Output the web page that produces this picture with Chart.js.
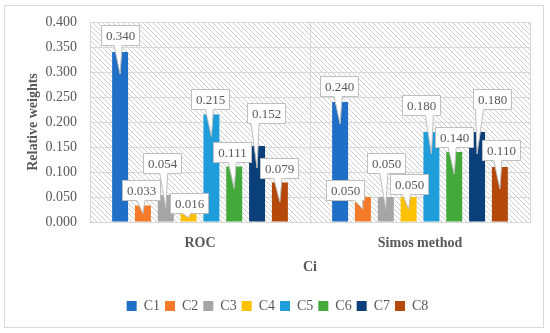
<!DOCTYPE html>
<html>
<head>
<meta charset="utf-8">
<script src="https://cdn.jsdelivr.net/npm/chart.js@4"></script>
<style>
  html, body { margin: 0; padding: 0; background: #fff; }
  #wrap { width: 550px; height: 333px; }
</style>
</head>
<body>
<div id="wrap"><canvas id="weights-chart" width="550" height="333"></canvas></div>
<script>
// categories on the x axis
const methods = ['ROC', 'Simos method'];
const criteria = ['C1', 'C2', 'C3', 'C4', 'C5', 'C6', 'C7', 'C8'];

// relative weights per method (one value per criterion)
const rocWeights   = [0.340, 0.033, 0.054, 0.016, 0.215, 0.111, 0.152, 0.079];
const simosWeights = [0.240, 0.050, 0.050, 0.050, 0.180, 0.140, 0.180, 0.110];

const yTicks = [0, 0.05, 0.10, 0.15, 0.20, 0.25, 0.30, 0.35, 0.40];

const barColors = ['#1f6fc6', '#f57b2b', '#a5a5a5', '#ffc000', '#1f9ddb', '#43a93b', '#0b3f7a', '#b4490b'];

// where each callout box sits, relative to the top of its bar [dx, dy]
const calloutOffsets = [
    [[0, -17], [-2, -16], [-4, -32], [0, -11], [-1, -16], [-2, -15], [9, -33], [-1, -15]],
    [[-1, -16], [-18, -7], [0, -34], [0, -13], [-10, -27], [0, -15], [15, -33], [1, -17]]
];

const textGray = '#595959';
const gridGray = '#d9d9d9';
const serif = '"Liberation Serif", "DejaVu Serif", serif';

// diagonal hatch used behind the plot area
const hatch = document.createElement('canvas');
hatch.width = 5;
hatch.height = 5;
const hctx = hatch.getContext('2d');
hctx.fillStyle = '#fff';
hctx.fillRect(0, 0, 5, 5);
hctx.fillStyle = '#cfcfcf';
for (let i = 0; i < 5; i++) hctx.fillRect(i, i, 1, 1);

const backgroundPlugin = {
    id: 'background',
    beforeDraw(chart) {
        const ctx = chart.ctx;
        const a = chart.chartArea;
        ctx.save();
        ctx.fillStyle = '#fff';
        ctx.fillRect(0, 0, chart.width, chart.height);
        ctx.strokeStyle = '#d9d9d9';
        ctx.lineWidth = 1;
        ctx.strokeRect(4.5, 5.5, 539, 322);
        ctx.fillStyle = ctx.createPattern(hatch, 'repeat');
        ctx.fillRect(a.left, a.top, a.right - a.left, a.bottom - a.top);
        ctx.restore();
    }
};

const calloutPlugin = {
    id: 'callouts',
    afterDatasetsDraw(chart) {
        const ctx = chart.ctx;
        ctx.save();
        ctx.font = '13px ' + serif;
        ctx.textAlign = 'center';
        ctx.textBaseline = 'middle';
        ctx.lineWidth = 1;
        chart.data.datasets.forEach((ds, i) => {
            const meta = chart.getDatasetMeta(i);
            meta.data.forEach((bar, j) => {
                const off = calloutOffsets[j][i];
                const cx = bar.x + off[0];
                const cy = bar.y + off[1];
                const w = 38, h = 20;
                const l = Math.round(cx - w / 2) + 0.5;
                const r = l + w;
                const t = Math.round(cy - h / 2) + 0.5;
                const b = t + h;
                const tipX = bar.x;
                const tipY = bar.y + Math.min(22, (bar.base - bar.y) / 2);
                const mid = Math.max(l + 6, Math.min(r - 6, tipX - 2));

                ctx.beginPath();
                ctx.moveTo(l, t);
                ctx.lineTo(r, t);
                ctx.lineTo(r, b);
                ctx.lineTo(mid + 4, b);
                ctx.lineTo(tipX, tipY);
                ctx.lineTo(mid - 4, b);
                ctx.lineTo(l, b);
                ctx.closePath();
                ctx.fillStyle = '#fff';
                ctx.fill();
                ctx.strokeStyle = '#bfbfbf';
                ctx.stroke();

                ctx.fillStyle = textGray;
                ctx.fillText(ds.data[j].toFixed(3), l + w / 2, t + h / 2 + 1);
            });
        });
        ctx.restore();
    }
};

const datasets = criteria.map((name, i) => ({
    label: name,
    data: [rocWeights[i], simosWeights[i]],
    backgroundColor: barColors[i],
    borderWidth: 0,
    categoryPercentage: 0.83,
    barPercentage: 0.7
}));

new Chart(document.getElementById('weights-chart'), {
    type: 'bar',
    data: { labels: methods, datasets: datasets },
    options: {
        responsive: false,
        animation: false,
        layout: { padding: { left: 25, right: 20, top: 22, bottom: 10 } },
        plugins: {
            tooltip: { enabled: false },
            legend: {
                position: 'bottom',
                labels: {
                    boxWidth: 10,
                    boxHeight: 10,
                    padding: 5,
                    color: textGray,
                    font: { family: serif, size: 14 }
                }
            }
        },
        scales: {
            x: {
                afterFit(scale) { scale.height = 72; },
                grid: { color: gridGray, drawTicks: false, offset: true },
                border: { color: gridGray },
                ticks: { color: textGray, padding: 13, font: { family: serif, size: 14, weight: 'bold' } },
                title: {
                    display: true,
                    text: 'Ci',
                    color: textGray,
                    padding: { top: 4, bottom: 18 },
                    font: { family: serif, size: 14, weight: 'bold' }
                }
            },
            y: {
                min: 0,
                max: 0.4,
                afterFit(scale) { scale.width = 65; },
                afterBuildTicks(scale) { scale.ticks = yTicks.map(v => ({ value: v })); },
                grid: { color: gridGray, drawTicks: false },
                border: { color: gridGray },
                ticks: {
                    color: textGray,
                    padding: 13,
                    font: { family: serif, size: 14 },
                    callback: v => Number(v).toFixed(3)
                },
                title: {
                    display: true,
                    text: 'Relative weights',
                    color: textGray,
                    padding: { top: 0, bottom: 0 },
                    font: { family: serif, size: 14, weight: 'bold' }
                }
            }
        }
    },
    plugins: [backgroundPlugin, calloutPlugin]
});
</script>
</body>
</html>
